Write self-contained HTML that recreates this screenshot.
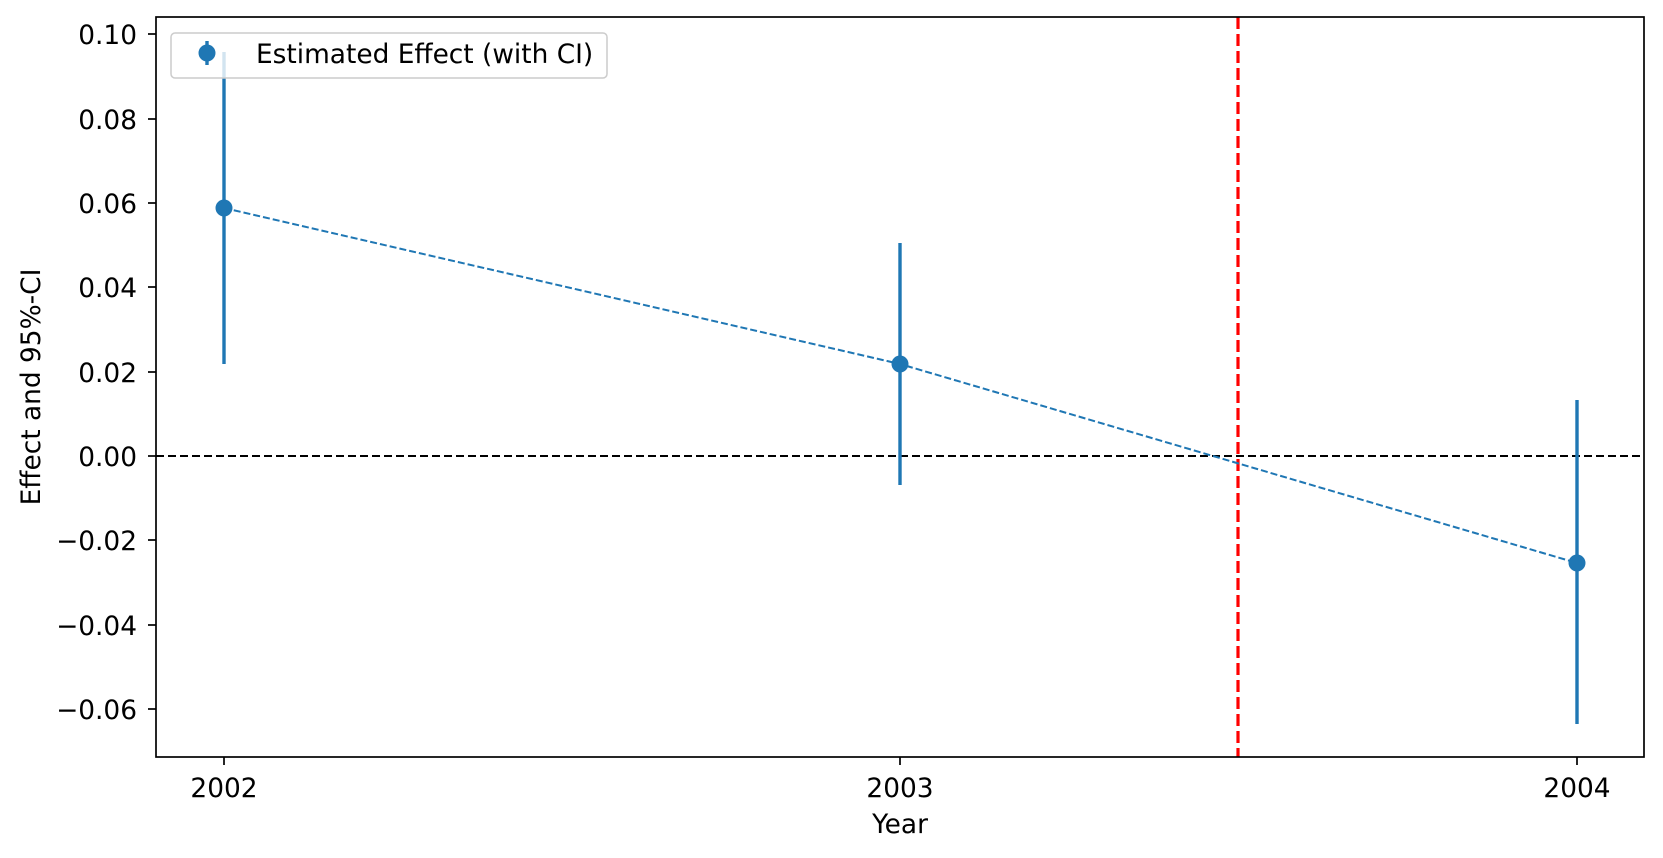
<!DOCTYPE html>
<html><head><style>body{margin:0;background:#fff}svg{display:block}text{font-family:"DejaVu Sans","Liberation Sans",sans-serif;font-size:26.4px;fill:#000}</style></head>
<body>
<svg width="1663" height="858" viewBox="0 0 1663 858" xmlns="http://www.w3.org/2000/svg">
<rect x="0" y="0" width="1663" height="858" fill="#fff"/>
<line x1="156" y1="456" x2="1644" y2="456" stroke="#000" stroke-width="2" stroke-dasharray="8,4"/>
<line x1="1238" y1="17" x2="1238" y2="757" stroke="#ff0000" stroke-width="3.2" stroke-dasharray="12,5"/>
<polyline points="224,208 900,364 1577,563" fill="none" stroke="#1f77b4" stroke-width="2" stroke-dasharray="7,3"/>
<g stroke="#1f77b4" stroke-width="3.4">
<line x1="224" y1="52" x2="224" y2="364"/>
<line x1="900" y1="243" x2="900" y2="485"/>
<line x1="1577" y1="400" x2="1577" y2="724"/>
</g>
<g fill="#1f77b4">
<circle cx="224" cy="208" r="8.5"/>
<circle cx="900" cy="364" r="8.5"/>
<circle cx="1577" cy="563" r="8.5"/>
</g>
<rect x="156" y="17" width="1488" height="740" fill="none" stroke="#000" stroke-width="1.7"/>
<g stroke="#000" stroke-width="1.7">
<line x1="148" y1="34" x2="156" y2="34"/><line x1="148" y1="119" x2="156" y2="119"/><line x1="148" y1="203" x2="156" y2="203"/><line x1="148" y1="287" x2="156" y2="287"/><line x1="148" y1="372" x2="156" y2="372"/><line x1="148" y1="456" x2="156" y2="456"/><line x1="148" y1="540" x2="156" y2="540"/><line x1="148" y1="625" x2="156" y2="625"/><line x1="148" y1="709" x2="156" y2="709"/>
<line x1="224" y1="757" x2="224" y2="765"/><line x1="900" y1="757" x2="900" y2="765"/><line x1="1577" y1="757" x2="1577" y2="765"/>
</g>
<g text-anchor="end">
<text x="137" y="44">0.10</text><text x="137" y="129">0.08</text><text x="137" y="213">0.06</text><text x="137" y="297">0.04</text><text x="137" y="382">0.02</text><text x="137" y="466">0.00</text><text x="137" y="550">−0.02</text><text x="137" y="635">−0.04</text><text x="137" y="719">−0.06</text>
</g>
<g text-anchor="middle">
<text x="224" y="797">2002</text><text x="900" y="797">2003</text><text x="1577" y="797">2004</text>
<text x="900" y="833">Year</text>
<text transform="translate(40,387) rotate(-90)">Effect and 95%-CI</text>
</g>
<rect x="171" y="33" width="436" height="45" rx="4" fill="#fff" fill-opacity="0.8" stroke="#ccc" stroke-width="1.5"/>
<line x1="207" y1="41" x2="207" y2="65" stroke="#1f77b4" stroke-width="3.4"/>
<circle cx="207" cy="53" r="8.5" fill="#1f77b4"/>
<text x="256" y="63">Estimated Effect (with CI)</text>
</svg>
</body></html>
